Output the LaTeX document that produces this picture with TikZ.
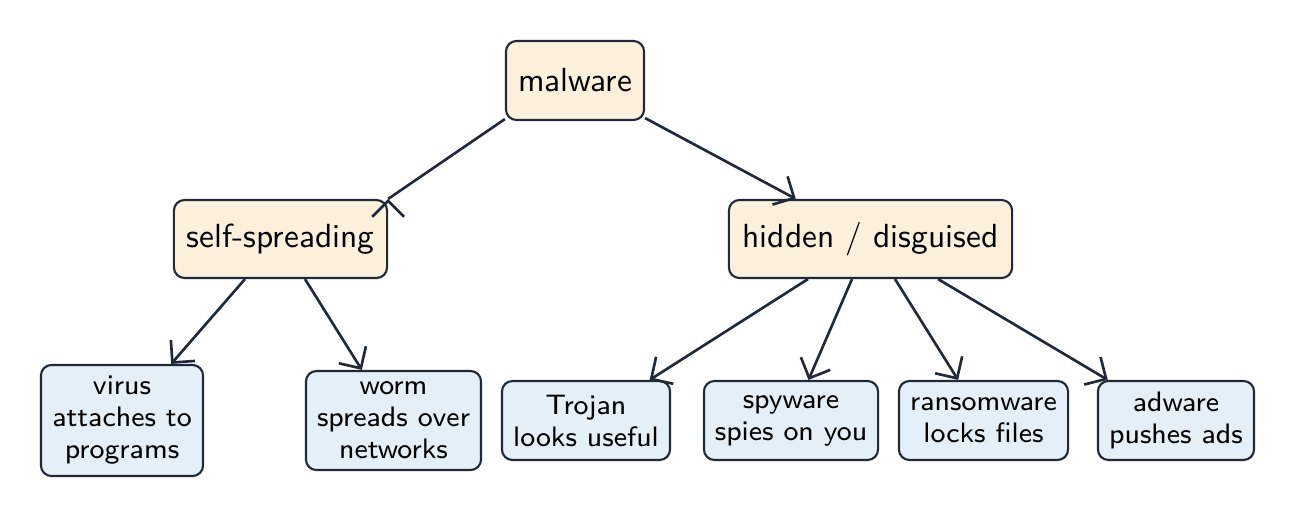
\documentclass[tikz,border=0pt]{standalone}
\usetikzlibrary{arrows.meta}
\definecolor{edge}{HTML}{1F2937}
\definecolor{topfill}{HTML}{FBF0DC}
\definecolor{leaffill}{HTML}{E4EFF7}
\begin{document}
\begin{tikzpicture}[x=0.01cm,y=-0.01cm,
  base/.style={draw=edge,line width=0.6pt,rounded corners=3pt,align=center,font=\sffamily,inner sep=0pt},
  cat/.style={base,fill=topfill,font=\sffamily\fontsize{9.5}{11}\selectfont},
  leaf/.style={base,fill=leaffill,font=\sffamily\fontsize{8}{9.1}\selectfont},
  arr/.style={draw=edge,line width=0.75pt,-{Straight Barb[length=1.6mm,width=3.2mm]}}]
\useasboundingbox (0,0) rectangle (1296,518);
\node[cat,minimum width=1.38cm,minimum height=0.79cm] (mal) at (575,80.5) {malware};
\node[cat,minimum width=2.13cm,minimum height=0.78cm] (self) at (280.5,239) {self-spreading};
\node[cat,minimum width=2.83cm,minimum height=0.78cm] (hid) at (870.5,239) {hidden / disguised};
\node[leaf,minimum width=1.62cm,minimum height=1.11cm] (virus) at (122,420.5) {virus\\attaches to\\programs};
\node[leaf,minimum width=1.75cm,minimum height=0.99cm] (worm) at (393.5,420.5) {worm\\spreads over\\networks};
\node[leaf,minimum width=1.68cm,minimum height=0.79cm] (troj) at (586,420.5) {Trojan\\looks useful};
\node[leaf,minimum width=1.74cm,minimum height=0.79cm] (spy) at (791,420.5) {spyware\\spies on you};
\node[leaf,minimum width=1.69cm,minimum height=0.79cm] (ran) at (983.5,420.5) {ransomware\\locks files};
\node[leaf,minimum width=1.56cm,minimum height=0.79cm] (ad) at (1176,420.5) {adware\\pushes ads};
\draw[arr] (mal.south west) ++(0,-2) -- (self.north east) ++(0,0);
\draw[arr] (mal) -- (hid);
\draw[arr] ([xshift=-0.355cm]self.south) -- (virus);
\draw[arr] ([xshift=0.245cm]self.south) -- (worm);
\draw[arr] ([xshift=-0.625cm]hid.south) -- (troj);
\draw[arr] ([xshift=-0.185cm]hid.south) -- (spy);
\draw[arr] ([xshift=0.245cm]hid.south) -- (ran);
\draw[arr] ([xshift=0.675cm]hid.south) -- (ad);
\end{tikzpicture}
\end{document}
